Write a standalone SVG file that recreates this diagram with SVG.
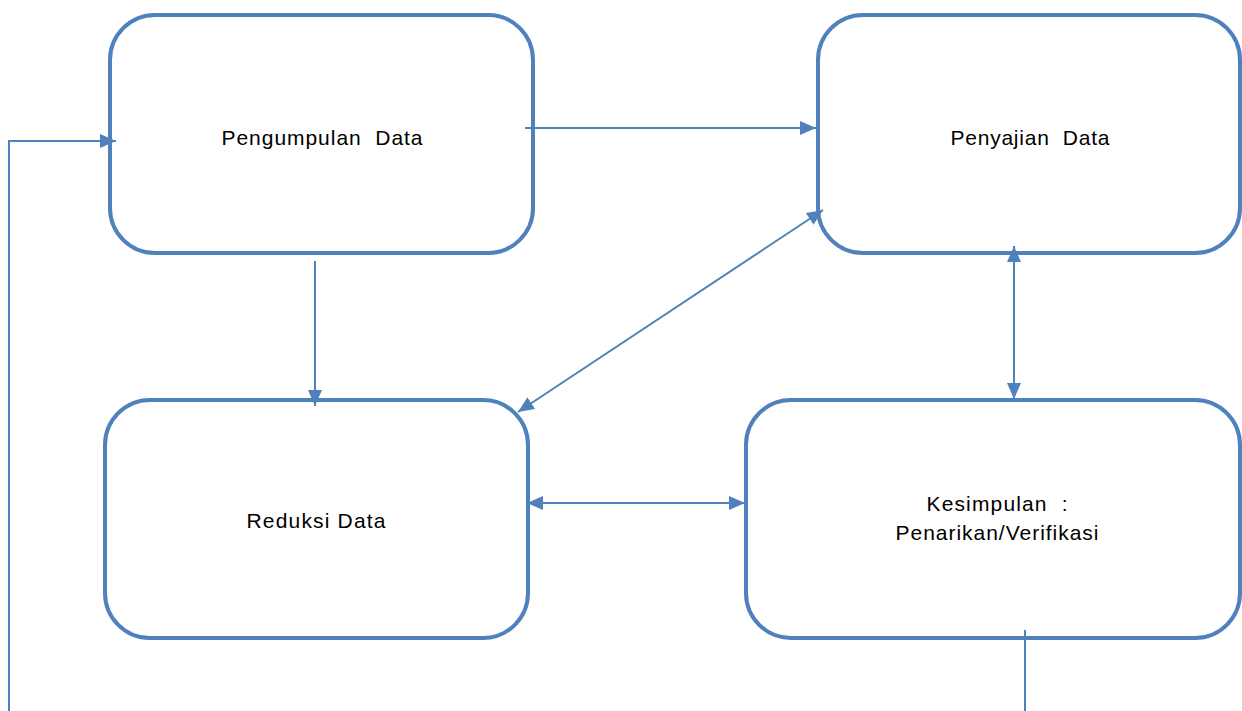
<svg xmlns="http://www.w3.org/2000/svg" width="1242" height="711" viewBox="0 0 1242 711">
<style>
.box{fill:#fff;stroke:#4F81BD;stroke-width:4}
.c{fill:none;stroke:#4F81BD;stroke-width:2}
text{font-family:"Liberation Sans",Arial,sans-serif;font-size:21px;fill:#000;text-anchor:middle;white-space:pre}
</style>
<defs>
<marker id="ah" viewBox="0 0 16 14" refX="16" refY="7" markerWidth="16" markerHeight="14" markerUnits="userSpaceOnUse" orient="auto-start-reverse">
<path d="M0,0 L16,7 L0,14 z" fill="#4F81BD"/>
</marker>
</defs>
<g id="n1"><rect class="box" x="110" y="15" width="423" height="238" rx="45"/><text x="322" y="145" textLength="201" lengthAdjust="spacing">Pengumpulan  Data</text></g>
<g id="n2"><rect class="box" x="818" y="15" width="422" height="238" rx="45"/><text x="1030" y="145" textLength="159" lengthAdjust="spacing">Penyajian  Data</text></g>
<g id="n3"><rect class="box" x="105" y="400" width="423" height="238" rx="45"/><text x="316" y="528" textLength="139" lengthAdjust="spacing">Reduksi Data</text></g>
<g id="n4"><rect class="box" x="746" y="400" width="494" height="238" rx="45"/><text x="997" y="511" textLength="141" lengthAdjust="spacing">Kesimpulan  :</text><text x="997" y="540" textLength="203" lengthAdjust="spacing">Penarikan/Verifikasi</text></g>
<g id="connectors">
<polyline class="c" points="9,711 9,141 116,141" marker-end="url(#ah)"/>
<line class="c" x1="525" y1="128" x2="816" y2="128" marker-end="url(#ah)"/>
<line class="c" x1="315" y1="261" x2="315" y2="406" marker-end="url(#ah)"/>
<line class="c" x1="823" y1="210" x2="518" y2="412" marker-start="url(#ah)" marker-end="url(#ah)"/>
<line class="c" x1="1014" y1="246" x2="1014" y2="399" marker-start="url(#ah)" marker-end="url(#ah)"/>
<line class="c" x1="527" y1="503" x2="745" y2="503" marker-start="url(#ah)" marker-end="url(#ah)"/>
<line class="c" x1="1025" y1="630" x2="1025" y2="711"/>
</g>
</svg>
